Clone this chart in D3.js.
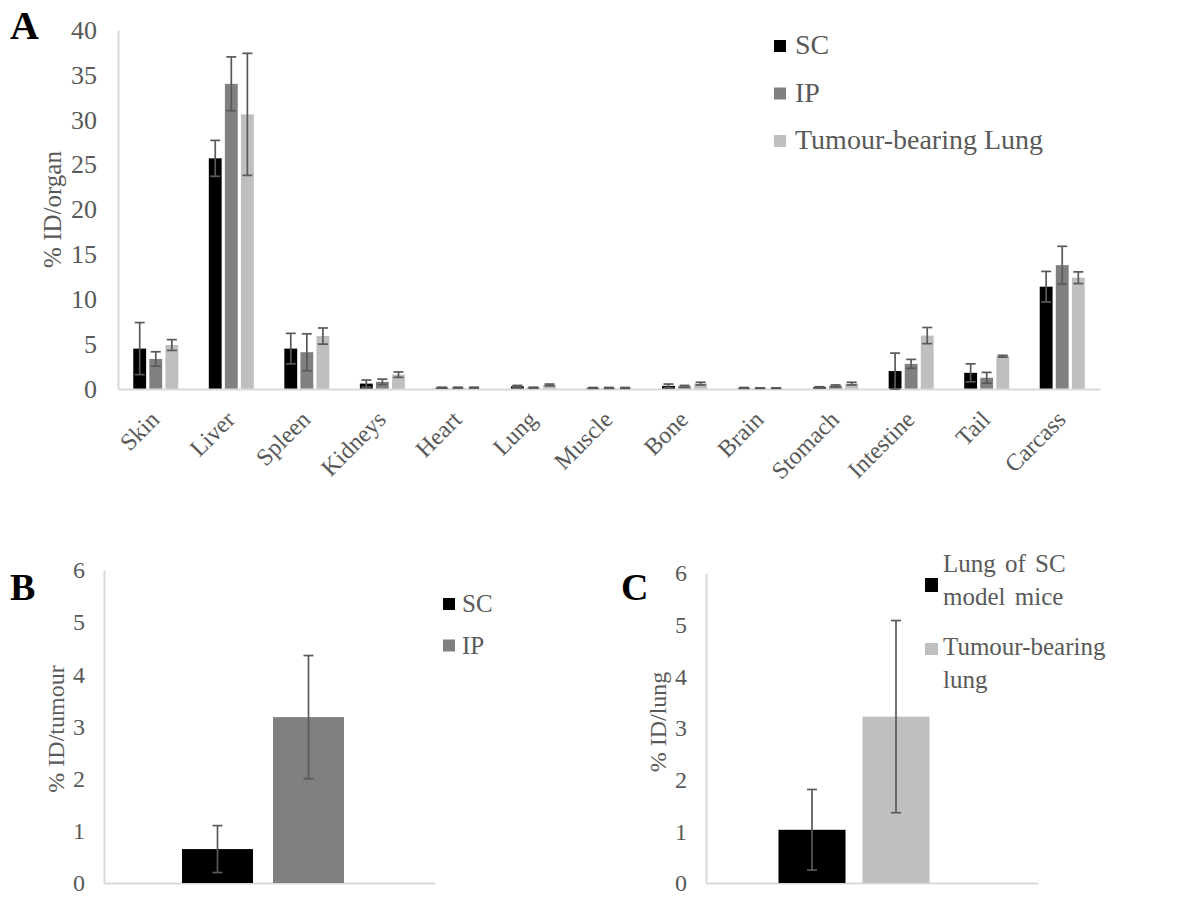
<!DOCTYPE html>
<html>
<head>
<meta charset="utf-8">
<script src="https://cdn.jsdelivr.net/npm/d3@7"></script>
<style>
  html, body { margin: 0; padding: 0; background: #fff; }
  svg { display: block; }
  text { font-family: "Liberation Serif", "Times New Roman", serif; }
</style>
</head>
<body>
<svg id="chart" width="1188" height="897"></svg>
<script>
// ---------- DATA ----------
const organs = ["Skin","Liver","Spleen","Kidneys","Heart","Lung","Muscle","Bone","Brain","Stomach","Intestine","Tail","Carcass"];
const seriesA = ["SC","IP","Tumour-bearing Lung"];
const scValues  = [4.5, 25.7, 4.5, 0.6, 0.15, 0.3, 0.12, 0.35, 0.12, 0.2, 2.0, 1.8, 11.4];
const scErrors  = [2.9, 2.0, 1.7, 0.4, 0.05, 0.1, 0.05, 0.2, 0.05, 0.05, 2.0, 1.0, 1.7];
const ipValues  = [3.35, 34.0, 4.1, 0.8, 0.15, 0.15, 0.12, 0.3, 0.1, 0.35, 2.8, 1.25, 13.8];
const ipErrors  = [0.8, 3.0, 2.05, 0.3, 0.05, 0.05, 0.05, 0.1, 0.03, 0.1, 0.5, 0.6, 2.1];
const tlValues  = [4.9, 30.6, 5.9, 1.6, 0.15, 0.45, 0.12, 0.6, 0.1, 0.6, 5.95, 3.65, 12.4];
const tlErrors  = [0.6, 6.8, 0.9, 0.3, 0.05, 0.1, 0.05, 0.15, 0.03, 0.15, 0.9, 0.1, 0.65];
const ticksA = [0,5,10,15,20,25,30,35,40];

const categoriesB = ["SC","IP"];
const valuesB = [0.65, 3.18];
const errorsB = [0.45, 1.18];

const categoriesC = ["Lung of SC model mice","Tumour-bearing lung"];
const legendC = [["Lung of SC","model mice"],["Tumour-bearing","lung"]];
const valuesC = [1.03, 3.22];
const errorsC = [0.78, 1.86];
const ticksBC = [0,1,2,3,4,5,6];

const colors = {"SC":"#000000","IP":"#808080","Tumour-bearing Lung":"#bfbfbf"};
const textColor = "#595959";
const axisColor = "#d9d9d9";
const errColor = "#595959";

const svg = d3.select("#chart");

function styleAxis(g) {
  g.attr("font-family", null);
  g.select(".domain").attr("stroke", axisColor).attr("stroke-width", 2);
  g.selectAll(".tick line").remove();
  g.selectAll("text").attr("fill", textColor);
}

function errorBar(g, x, yTop, yBot, cap) {
  g.append("line").attr("x1", x).attr("x2", x).attr("y1", yTop).attr("y2", yBot)
    .attr("stroke", errColor).attr("stroke-width", 1.7);
  [yTop, yBot].forEach(yy => g.append("line").attr("x1", x - cap/2).attr("x2", x + cap/2)
    .attr("y1", yy).attr("y2", yy).attr("stroke", errColor).attr("stroke-width", 1.7));
}

// ---------- PANEL A ----------
(function() {
  const left = 118, right = 1100, top = 30, bottom = 389;
  const x = d3.scaleBand().domain(organs).range([left, right]);
  const bw = x.bandwidth();
  const xs = d3.scaleBand().domain(seriesA).range([bw/2 - 22.5, bw/2 + 22.5]).paddingInner(0.2);
  const y = d3.scaleLinear().domain([0, 40]).range([bottom, top]);
  const data = {"SC":[scValues, scErrors], "IP":[ipValues, ipErrors], "Tumour-bearing Lung":[tlValues, tlErrors]};

  const g = svg.append("g");
  const yAx = g.append("g").attr("transform", `translate(${left},0)`)
    .call(d3.axisLeft(y).tickValues(ticksA).tickFormat(d3.format("d")).tickSize(0).tickPadding(21).tickSizeOuter(0));
  styleAxis(yAx);
  yAx.selectAll("text").attr("font-size", 26);

  organs.forEach((o, i) => {
    seriesA.forEach(s => {
      const v = data[s][0][i];
      g.append("rect").attr("x", x(o) + xs(s)).attr("y", y(v)).attr("width", xs.bandwidth())
        .attr("height", y(0) - y(v)).attr("fill", colors[s]);
    });
  });

  const xAx = g.append("g").attr("transform", `translate(0,${bottom})`)
    .call(d3.axisBottom(x).tickSize(0).tickSizeOuter(0));
  styleAxis(xAx);
  xAx.selectAll("text").attr("font-size", 24).attr("text-anchor", "end")
    .attr("y", 0).attr("dy", 0).attr("transform", "translate(5,32) rotate(-45)");

  const eg = g.append("g");
  organs.forEach((o, i) => {
    seriesA.forEach(s => {
      const v = data[s][0][i], e = data[s][1][i];
      const cx = x(o) + xs(s) + xs.bandwidth()/2;
      errorBar(eg, cx, y(v + e), y(Math.max(0, v - e)), 10);
    });
  });

  g.append("text").attr("transform", `translate(61,${(top+bottom)/2}) rotate(-90)`)
    .attr("text-anchor", "middle").attr("font-size", 25).attr("fill", textColor).text("% ID/organ");
  g.append("text").attr("x", 10).attr("y", 39).attr("font-size", 40).attr("font-weight", "bold")
    .attr("fill", "#000").text("A");

  const lg = g.append("g");
  seriesA.forEach((s, i) => {
    const ly = 54 + i * 47.5;
    lg.append("rect").attr("x", 774).attr("y", ly - 14).attr("width", 12).attr("height", 12).attr("fill", colors[s]);
    lg.append("text").attr("x", 795).attr("y", ly).attr("font-size", 28).attr("fill", textColor).text(s);
  });
})();

// ---------- PANELS B & C ----------
function smallPanel(opts) {
  const {left, right, top, bottom, cats, vals, errs, cols, barW, gap, shift, title, titleX, titleY, letter, letterX} = opts;
  const g = svg.append("g");
  const y = d3.scaleLinear().domain([0, 6]).range([bottom, top]);
  const xo = d3.scaleBand().domain(["all"]).range([left, right]);
  const center = xo("all") + xo.bandwidth()/2 + shift;
  const groupW = 2*barW + gap;
  const xi = d3.scaleBand().domain(cats).range([center - groupW/2, center + groupW/2]).paddingInner(gap/(barW+gap));

  const yAx = g.append("g").attr("transform", `translate(${left},0)`)
    .call(d3.axisLeft(y).tickValues(ticksBC).tickFormat(d3.format("d")).tickSize(0).tickPadding(19).tickSizeOuter(0));
  styleAxis(yAx);
  yAx.selectAll("text").attr("font-size", 24);

  const xAx = g.append("g").attr("transform", `translate(0,${bottom})`)
    .call(d3.axisBottom(xo).tickSize(0).tickSizeOuter(0).tickFormat(""));
  styleAxis(xAx);

  cats.forEach((c, i) => {
    g.append("rect").attr("x", xi(c)).attr("y", y(vals[i])).attr("width", xi.bandwidth())
      .attr("height", y(0) - y(vals[i])).attr("fill", cols[i]);
  });
  cats.forEach((c, i) => {
    errorBar(g, xi(c) + xi.bandwidth()/2, y(vals[i] + errs[i]), y(vals[i] - errs[i]), 10);
  });

  g.append("text").attr("transform", `translate(${titleX},${titleY}) rotate(-90)`)
    .attr("text-anchor", "middle").attr("font-size", 24).attr("fill", textColor).text(title);
  g.append("text").attr("x", letterX).attr("y", 600).attr("font-size", 38).attr("font-weight", "bold")
    .attr("fill", "#000").text(letter);
  return g;
}

const gB = smallPanel({left:104, right:435, top:570, bottom:883, cats:categoriesB, vals:valuesB, errs:errorsB,
  cols:[colors["SC"], colors["IP"]], barW:71, gap:20, shift:-6.5, title:"% ID/tumour", titleX:64, titleY:729, letter:"B", letterX:10});
categoriesB.forEach((c, i) => {
  const ly = 612 + i * 41.5;
  gB.append("rect").attr("x", 443).attr("y", ly - 14).attr("width", 12).attr("height", 12).attr("fill", i ? colors["IP"] : colors["SC"]);
  gB.append("text").attr("x", 462).attr("y", ly).attr("font-size", 25).attr("fill", textColor).text(c);
});

const gC = smallPanel({left:706, right:1038, top:573, bottom:883, cats:categoriesC, vals:valuesC, errs:errorsC,
  cols:[colors["SC"], colors["Tumour-bearing Lung"]], barW:67, gap:17, shift:-18, title:"% ID/lung", titleX:666, titleY:722, letter:"C", letterX:621});
legendC.forEach((lines, i) => {
  const ly = 572 + i * 83;
  gC.append("rect").attr("x", 925).attr("y", i ? 643 : 578).attr("width", 13).attr("height", i ? 12 : 14)
    .attr("fill", i ? colors["Tumour-bearing Lung"] : colors["SC"]);
  lines.forEach((t, k) => {
    gC.append("text").attr("x", 943).attr("y", ly + k * 33).attr("font-size", 25)
      .attr("word-spacing", i ? 0 : 3).attr("fill", textColor).text(t);
  });
});
</script>
</body>
</html>
